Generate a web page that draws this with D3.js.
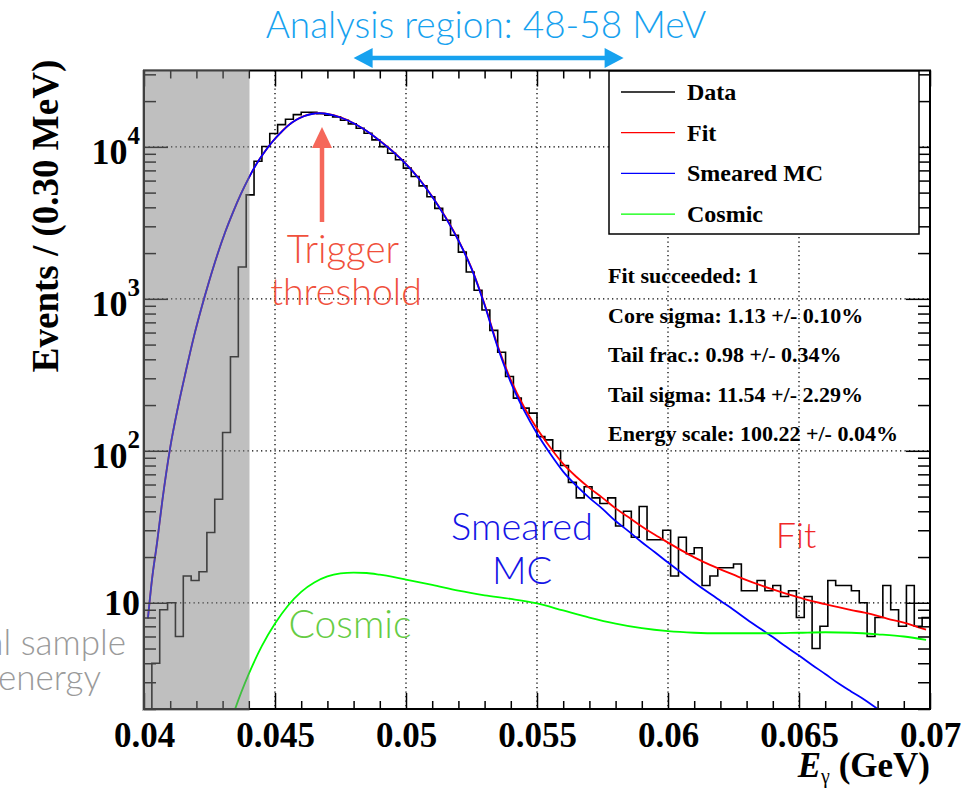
<!DOCTYPE html>
<html><head><meta charset="utf-8">
<script src="https://cdn.jsdelivr.net/npm/d3@7"></script>
<style>body{margin:0;background:#fff;} svg{display:block}</style>
</head><body><svg id="c" width="973" height="791"></svg>
<script>
// ---------------- DATA ----------------
const binStart = 0.040, binWidth = 0.0003;
const dataCounts = [1.5, 4, 9, 10, 6, 15, 14, 16, 29, 48,
  132, 416, 1620, 4830, 8040, 10050, 12250, 14000, 15200, 16300,
  16900, 16900, 16550, 16130, 15740, 14970, 14170, 13260, 12300, 11120,
  10030, 9080, 8230, 7250, 6380, 5540, 4700, 3940, 3290, 2620,
  2030, 1500, 1140, 845, 620, 445, 308, 222, 191, 177,
  124, 118, 100, 80, 62, 49, 58, 49, 45, 49,
  32, 40, 27, 43, 26, 26, 30, 15, 27, 21,
  23, 13, 15, 17, 17, 18, 12, 12, 14, 12,
  13, 11, 12, 8, 11, 5, 7, 14, 13, 13,
  12, 10, 6, 8, 13, 9, 7, 13, 7, 8];

const curveE = [0.04015, 0.0403, 0.0405, 0.0407, 0.0410, 0.0413, 0.0416, 0.0419, 0.0422, 0.0425,
  0.0428, 0.0431, 0.0434, 0.0437, 0.0440, 0.0443, 0.0446, 0.0449, 0.0452, 0.0455,
  0.0458, 0.0461, 0.0464, 0.0467, 0.0470, 0.0475, 0.0480, 0.0485, 0.0490, 0.0495,
  0.0500, 0.0505, 0.0510, 0.0515, 0.0520, 0.0525, 0.0530, 0.0535, 0.0540, 0.0545,
  0.0550, 0.0555, 0.0560, 0.0565, 0.0570, 0.0575, 0.0580, 0.0585, 0.0590, 0.0595,
  0.0600, 0.0605, 0.0610, 0.0615, 0.0620, 0.0625, 0.0630, 0.0635, 0.0640, 0.0645,
  0.0650, 0.0655, 0.0660, 0.0665, 0.0670, 0.0675, 0.0680, 0.0685, 0.0690, 0.0695, 0.06985];

const mcVals = [7.9, 14, 25, 47, 105, 195, 335, 560, 880, 1330,
  1950, 2750, 3720, 4900, 6250, 7750, 9250, 10800, 12300, 13800,
  15000, 15900, 16450, 16650, 16450, 15600, 14300, 12700, 10950, 9300,
  7700, 6150, 4700, 3450, 2420, 1580, 910, 480, 282, 185,
  130, 96, 73, 59, 49, 41.5, 34.5, 29.5, 25, 21.5,
  18.4, 15.8, 13.6, 11.8, 10.3, 9.0, 7.8, 6.8, 5.95, 5.15,
  4.5, 3.9, 3.4, 2.95, 2.6, 2.3, 2.0, 1.75, 1.55, 1.35, 1.22];

const fitVals = [7.9, 14, 25, 47, 105, 195, 335, 560, 880, 1330,
  1950, 2750, 3720, 4900, 6255, 7755, 9255, 10805, 12310, 13810,
  15010, 15910, 16465, 16665, 16465, 15615, 14315, 12715, 10965, 9315,
  7715, 6165, 4715, 3465, 2432, 1592, 921, 491, 293, 195,
  140, 105.5, 82, 67.5, 57, 49, 41.8, 36.5, 31.8, 28,
  24.9, 22.2, 19.9, 18.1, 16.6, 15.3, 14.1, 13.1, 12.25, 11.5,
  10.85, 10.25, 9.8, 9.35, 8.95, 8.6, 8.2, 7.75, 7.4, 6.95, 6.65];

const cosmicE = [0.0415, 0.0420, 0.0425, 0.0430, 0.0435, 0.0440, 0.0445, 0.0450, 0.0455, 0.0460,
  0.0465, 0.0470, 0.0475, 0.0480, 0.0485, 0.0490, 0.0495, 0.0500, 0.0510, 0.0520,
  0.0530, 0.0540, 0.0550, 0.0560, 0.0570, 0.0580, 0.0590, 0.0600, 0.0610, 0.0620,
  0.0630, 0.0640, 0.0650, 0.0660, 0.0670, 0.0680, 0.0690, 0.06985];
const cosmicVals = [0.02, 0.12, 0.45, 1.1, 2.05, 3.4, 5.2, 7.3, 9.6, 11.8,
  13.6, 14.9, 15.6, 15.8, 15.7, 15.3, 14.8, 14.2, 13.1, 12.0,
  11.2, 10.6, 9.9, 8.9, 8.0, 7.3, 6.8, 6.5, 6.35, 6.3,
  6.3, 6.3, 6.35, 6.4, 6.35, 6.2, 6.0, 5.7];

const xTickValues = [0.04, 0.045, 0.05, 0.055, 0.06, 0.065, 0.07];
const xTickLabels = ["0.04", "0.045", "0.05", "0.055", "0.06", "0.065", "0.07"];
const yTickValues = [10, 100, 1000, 10000];
const yTickExp = ["", "2", "3", "4"];
const legendLabels = ["Data", "Fit", "Smeared MC", "Cosmic"];
const legendColors = ["#000000", "#ff0000", "#0000ff", "#00ff00"];
const statLines = ["Fit succeeded: 1", "Core sigma: 1.13 +/- 0.10%", "Tail frac.: 0.98 +/- 0.34%",
  "Tail sigma: 11.54 +/- 2.29%", "Energy scale: 100.22 +/- 0.04%"];
const shadedRange = [0.040, 0.044];
const analysisRange = [0.048, 0.058];

// ---------------- LAYOUT ----------------
const m = {l: 144, r: 930, t: 70.5, b: 709};
const x = d3.scaleLinear().domain([0.04, 0.07]).range([m.l, m.r]);
const y = d3.scaleLog().domain([2, 31800]).range([m.b, m.t]);
const serif = "'Liberation Serif', 'DejaVu Serif', serif";
const sans = "Lato, 'Open Sans', sans-serif";

const svg = d3.select("#c");
svg.append("rect").attr("width", 973).attr("height", 791).attr("fill", "#fff");
const defs = svg.append("defs");
defs.append("clipPath").attr("id", "frameClip").append("rect")
  .attr("x", m.l).attr("y", m.t).attr("width", m.r - m.l).attr("height", m.b - m.t);

// grid
const grid = svg.append("g").attr("stroke", "#000").attr("stroke-width", 1.3).attr("stroke-dasharray", "1.3,3.2");
grid.selectAll(".gx").data(xTickValues.slice(1, -1)).join("line")
  .attr("x1", d => x(d)).attr("x2", d => x(d)).attr("y1", m.t).attr("y2", m.b);
grid.selectAll(".gy").data(yTickValues).join("line")
  .attr("x1", m.l).attr("x2", m.r).attr("y1", d => y(d)).attr("y2", d => y(d));

// stats text
svg.append("g").selectAll("text").data(statLines).join("text")
  .attr("x", 608).attr("y", (d, i) => 283 + i * 39.5)
  .attr("font-family", serif).attr("font-weight", "bold").attr("font-size", 22)
  .text(d => d);

// plot content
const plot = svg.append("g").attr("clip-path", "url(#frameClip)");
const histPts = [];
dataCounts.forEach((v, i) => {
  const e0 = binStart + i * binWidth, e1 = e0 + binWidth;
  histPts.push([x(e0), y(v)], [x(e1), y(v)]);
});
plot.append("path").attr("d", d3.line()(histPts))
  .attr("fill", "none").attr("stroke", "#000").attr("stroke-width", 1.6);

const curveLine = d3.line().x(d => x(d[0])).y(d => y(d[1])).curve(d3.curveMonotoneX);
plot.append("path").attr("d", curveLine(curveE.map((e, i) => [e, fitVals[i]])))
  .attr("fill", "none").attr("stroke", "#ff0000").attr("stroke-width", 1.8);
plot.append("path").attr("d", curveLine(curveE.map((e, i) => [e, mcVals[i]])))
  .attr("fill", "none").attr("stroke", "#0000ff").attr("stroke-width", 1.8);
plot.append("path").attr("d", curveLine(cosmicE.map((e, i) => [e, cosmicVals[i]])))
  .attr("fill", "none").attr("stroke", "#00ff00").attr("stroke-width", 1.8);

// axes (ticks inside)
function noDomain(g) { g.select(".domain").remove(); }
const xMinor = d3.range(0, 31).map(i => 0.04 + i * 0.001).filter(v => Math.abs(Math.round(v * 200) - v * 200) > 1e-6);
const yMinor = [];
[1, 10, 100, 1000, 10000].forEach(dec => { for (let k = 2; k <= 9; k++) { const v = dec * k; if (v >= 2 && v <= 31800) yMinor.push(v); } });

const tickStyle = g => g.selectAll("line").attr("stroke", "#000").attr("stroke-width", 1.5);
svg.append("g").attr("transform", `translate(0,${m.b})`)
  .call(d3.axisBottom(x).tickValues(xMinor).tickSize(-8).tickFormat("")).call(noDomain).call(tickStyle);
const xAx = svg.append("g").attr("transform", `translate(0,${m.b})`)
  .call(d3.axisBottom(x).tickValues(xTickValues).tickSize(-16).tickPadding(13).tickFormat((d, i) => xTickLabels[i]))
  .call(noDomain).call(tickStyle);
xAx.selectAll("text").attr("font-family", serif).attr("font-weight", "bold").attr("font-size", 35).attr("fill", "#000");

svg.append("g").attr("transform", `translate(0,${m.t})`)
  .call(d3.axisTop(x).tickValues(xMinor).tickSize(-8).tickFormat("")).call(noDomain).call(tickStyle);
svg.append("g").attr("transform", `translate(0,${m.t})`)
  .call(d3.axisTop(x).tickValues(xTickValues).tickSize(-16).tickFormat("")).call(noDomain).call(tickStyle);

svg.append("g").attr("transform", `translate(${m.l},0)`)
  .call(d3.axisLeft(y).tickValues(yMinor).tickSize(-12).tickFormat("")).call(noDomain).call(tickStyle);
const yAx = svg.append("g").attr("transform", `translate(${m.l},0)`)
  .call(d3.axisLeft(y).tickValues(yTickValues).tickSize(-24).tickFormat("")).call(noDomain).call(tickStyle);
yAx.selectAll(".tick").each(function(d, i) {
  const t = d3.select(this).append("text").attr("fill", "#000")
    .attr("font-family", serif).attr("font-weight", "bold").attr("font-size", 36)
    .attr("text-anchor", "end").attr("x", -4);
  if (yTickExp[i] === "") {
    t.attr("y", 12).text("10");
  } else {
    t.attr("y", 17);
    t.append("tspan").text("10");
    t.append("tspan").attr("font-size", 25).attr("dy", -20).text(yTickExp[i]);
  }
});
svg.append("g").attr("transform", `translate(${m.r},0)`)
  .call(d3.axisRight(y).tickValues(yMinor).tickSize(-12).tickFormat("")).call(noDomain).call(tickStyle);
svg.append("g").attr("transform", `translate(${m.r},0)`)
  .call(d3.axisRight(y).tickValues(yTickValues).tickSize(-24).tickFormat("")).call(noDomain).call(tickStyle);

// frame
svg.append("rect").attr("x", m.l).attr("y", m.t).attr("width", m.r - m.l).attr("height", m.b - m.t)
  .attr("fill", "none").attr("stroke", "#000").attr("stroke-width", 2);

// axis titles
svg.append("text").attr("transform", "translate(58,216) rotate(-90)").attr("text-anchor", "middle")
  .attr("font-family", serif).attr("font-weight", "bold").attr("font-size", 37).text("Events / (0.30 MeV)");
const xt = svg.append("text").attr("x", m.r).attr("y", 777).attr("text-anchor", "end")
  .attr("font-family", serif).attr("font-weight", "bold").attr("font-size", 35);
xt.append("tspan").attr("font-style", "italic").text("E");
xt.append("tspan").attr("font-size", 20).attr("dy", 6).attr("font-weight", "normal").text("γ");
xt.append("tspan").attr("dy", -6).text(" (GeV)");

// legend
const lg = svg.append("g");
lg.append("rect").attr("x", 609).attr("y", 71).attr("width", 310).attr("height", 163)
  .attr("fill", "#fff").attr("stroke", "#000").attr("stroke-width", 1.5);
legendLabels.forEach((lab, i) => {
  const ly = 92 + i * 40.7;
  lg.append("line").attr("x1", 621).attr("x2", 675).attr("y1", ly).attr("y2", ly)
    .attr("stroke", legendColors[i]).attr("stroke-width", 1.3);
  lg.append("text").attr("x", 687).attr("y", ly + 8).attr("font-family", serif)
    .attr("font-weight", "bold").attr("font-size", 24).text(lab);
});

// shaded region (below-threshold)
svg.append("rect").attr("x", x(shadedRange[0]) - 2).attr("y", m.t - 0.5)
  .attr("width", x(shadedRange[1]) - x(shadedRange[0]) + 2.7).attr("height", m.b - m.t + 2.5)
  .attr("fill", "rgb(128,128,128)").attr("fill-opacity", 0.5);

// annotations
const aBlue = "#17a2ef";
svg.append("text").attr("x", 486).attr("y", 38).attr("text-anchor", "middle")
  .attr("font-family", sans).attr("font-weight", 300).attr("font-size", 37).attr("fill", aBlue)
  .text("Analysis region: 48-58 MeV");
const ax0 = x(analysisRange[0]), ax1 = x(analysisRange[1]) + 8, ay = 58;
svg.append("line").attr("x1", ax0 + 15).attr("x2", ax1 - 15).attr("y1", ay).attr("y2", ay)
  .attr("stroke", aBlue).attr("stroke-width", 4.5);
svg.append("path").attr("d", `M${ax0},${ay} L${ax0 + 19},${ay - 10} L${ax0 + 19},${ay + 10} Z`).attr("fill", aBlue);
svg.append("path").attr("d", `M${ax1},${ay} L${ax1 - 19},${ay - 10} L${ax1 - 19},${ay + 10} Z`).attr("fill", aBlue);

const tRed = "#f0503c";
svg.append("line").attr("x1", 322).attr("x2", 322).attr("y1", 222).attr("y2", 140)
  .attr("stroke", "#f5675a").attr("stroke-width", 4.5);
svg.append("path").attr("d", "M322,127 L312,148 L332,148 Z").attr("fill", "#f5675a");
svg.append("text").attr("x", 343).attr("y", 263).attr("text-anchor", "middle")
  .attr("font-family", sans).attr("font-weight", 300).attr("font-size", 38.5).attr("fill", tRed).text("Trigger");
svg.append("text").attr("x", 346).attr("y", 305).attr("text-anchor", "middle")
  .attr("font-family", sans).attr("font-weight", 300).attr("font-size", 37.5).attr("fill", tRed).text("threshold");

svg.append("text").attr("x", 522).attr("y", 540).attr("text-anchor", "middle")
  .attr("font-family", sans).attr("font-weight", 300).attr("font-size", 38).attr("fill", "#1414e6").text("Smeared");
svg.append("text").attr("x", 522).attr("y", 584).attr("text-anchor", "middle")
  .attr("font-family", sans).attr("font-weight", 300).attr("font-size", 38).attr("fill", "#1414e6").text("MC");
svg.append("text").attr("x", 796).attr("y", 548).attr("text-anchor", "middle")
  .attr("font-family", sans).attr("font-weight", 300).attr("font-size", 36).attr("fill", "#f02828").text("Fit");
svg.append("text").attr("x", 350).attr("y", 638).attr("text-anchor", "middle")
  .attr("font-family", sans).attr("font-weight", 300).attr("font-size", 39).attr("fill", "#66cc44").text("Cosmic");

svg.append("text").attr("x", 126).attr("y", 655).attr("text-anchor", "end")
  .attr("font-family", sans).attr("font-weight", 300).attr("font-size", 35).attr("fill", "#9a9a9a").text("al sample");
svg.append("text").attr("x", 101).attr("y", 690).attr("text-anchor", "end")
  .attr("font-family", sans).attr("font-weight", 300).attr("font-size", 35).attr("fill", "#9a9a9a").text("energy");
</script></body></html>
